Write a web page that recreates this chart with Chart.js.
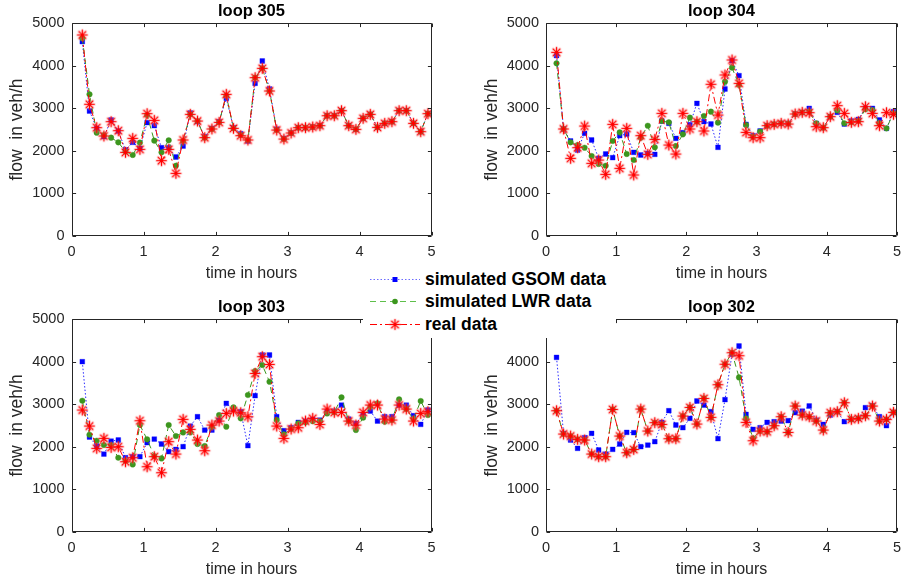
<!DOCTYPE html>
<html>
<head>
<meta charset="utf-8">
<script src="https://cdn.jsdelivr.net/npm/chart.js@4.4.1/dist/chart.umd.min.js"></script>
<style>
  html, body { margin: 0; padding: 0; background: #fff; }
  #wrap { position: relative; width: 909px; height: 586px; overflow: hidden; background: #fff; }
  canvas.panel { position: absolute; }
  #legend { position: absolute; left: 363px; top: 266px; width: 253px; height: 72px; background: #fff;
            font: bold 17.5px "Liberation Sans", Arial, sans-serif; color: #000; }
  #legend .row { position: absolute; left: 0; height: 22px; line-height: 22px; width: 253px; }
  #legend .row canvas { position: absolute; left: 5px; top: 1px; }
  #legend .row span { position: absolute; left: 62px; top: 0; white-space: nowrap; }
</style>
</head>
<body>
<div id="wrap">
  <canvas id="c305" class="panel" width="454" height="293" style="left:0;top:0"></canvas>
  <canvas id="c304" class="panel" width="455" height="293" style="left:454px;top:0"></canvas>
  <canvas id="c303" class="panel" width="454" height="293" style="left:0;top:293px"></canvas>
  <canvas id="c302" class="panel" width="455" height="293" style="left:454px;top:293px"></canvas>
  <div id="legend"></div>
</div>
<script>
// sample times (hours)
const hours = [0.15, 0.25, 0.35, 0.45, 0.55, 0.65, 0.75, 0.85, 0.95, 1.05, 1.15, 1.25, 1.35, 1.45, 1.55, 1.65,
  1.75, 1.85, 1.95, 2.05, 2.15, 2.25, 2.35, 2.45, 2.55, 2.65, 2.75, 2.85, 2.95, 3.05, 3.15, 3.25, 3.35,
  3.45, 3.55, 3.65, 3.75, 3.85, 3.95, 4.05, 4.15, 4.25, 4.35, 4.45, 4.55, 4.65, 4.75, 4.85, 4.95];

// loop 305 (veh/h)
const loop305Gsom = [4568, 2936, 2527, 2331, 2724, 2465, 2017, 2198, 2057, 2661, 2590, 2072, 2072, 1852, 2111, 2888,
  2684, 2331, 2527, 2684, 3234, 2543, 2402, 2229, 3587, 4113, 3454, 2510, 2292, 2418, 2543, 2543, 2559,
  2590, 2825, 2825, 2943, 2590, 2504, 2763, 2857, 2551, 2645, 2684, 2943, 2943, 2645, 2449, 2873];
const loop305Lwr = [4647, 3328, 2425, 2370, 2308, 2198, 1980, 1900, 2190, 2841, 2237, 1962, 2245, 1648, 2229, 2857,
  2700, 2308, 2512, 2669, 3300, 2527, 2370, 2253, 3721, 3940, 3407, 2488, 2276, 2418, 2543, 2543, 2559,
  2590, 2825, 2825, 2943, 2590, 2504, 2763, 2857, 2551, 2645, 2684, 2943, 2943, 2645, 2449, 2873];
const loop305Real = [4725, 3093, 2543, 2347, 2684, 2473, 1962, 2292, 2033, 2873, 2716, 1766, 2033, 1468, 2253, 2857,
  2700, 2308, 2512, 2669, 3328, 2527, 2355, 2253, 3721, 3940, 3407, 2488, 2276, 2418, 2543, 2543, 2559,
  2590, 2825, 2825, 2943, 2590, 2504, 2763, 2857, 2551, 2645, 2684, 2943, 2943, 2645, 2449, 2873];

// loop 304
const loop304Gsom = [4239, 2512, 2229, 2017, 2410, 2253, 1821, 1923, 1837, 2355, 2394, 1962, 1900, 1939, 1915, 2700,
  2645, 2292, 2425, 2614, 3116, 2684, 2629, 2080, 3454, 4120, 3768, 2622, 2355, 2465, 2590, 2622, 2645,
  2645, 2865, 2904, 2998, 2645, 2543, 2802, 2904, 2629, 2700, 2739, 3000, 2998, 2724, 2527, 2920];
const loop304Lwr = [4058, 2512, 2198, 2135, 2072, 1876, 1688, 1648, 2229, 2433, 1923, 1782, 2308, 2590, 2080, 2700,
  2669, 2111, 2386, 2779, 2684, 2818, 2920, 2661, 3626, 3956, 3548, 2606, 2330, 2450, 2590, 2622, 2645,
  2640, 2865, 2900, 2920, 2645, 2543, 2802, 2950, 2645, 2669, 2700, 2975, 2960, 2645, 2527, 2880];
const loop304Real = [4317, 2512, 1821, 2072, 2582, 1703, 1782, 1444, 2622, 1586, 2527, 1429, 2355, 1915, 2268, 2881,
  2135, 1923, 2881, 2512, 2684, 2465, 3564, 2841, 3783, 4137, 3587, 2433, 2308, 2308, 2590, 2622, 2645,
  2629, 2865, 2904, 2896, 2567, 2543, 2802, 3061, 2881, 2669, 2684, 3038, 2881, 2590, 2896, 2857];

// loop 303
const loop303Gsom = [4000, 2228, 2016, 1827, 2133, 2157, 1741, 1765, 1765, 2094, 2180, 2063, 1882, 1937, 2000, 2486,
  2706, 2392, 2392, 2627, 3020, 2878, 2824, 2024, 3200, 4157, 4157, 2706, 2376, 2447, 2573, 2600, 2640,
  2627, 2824, 2839, 2980, 2651, 2549, 2745, 2839, 2604, 2706, 2706, 2980, 2980, 2729, 2525, 2863];
const loop303Lwr = [3082, 2282, 2141, 2039, 2040, 1741, 1671, 1584, 2510, 2173, 1780, 1725, 2510, 2251, 2337, 2337,
  2063, 2016, 2471, 2745, 2471, 2925, 2667, 3216, 3780, 3922, 3529, 2627, 2290, 2416, 2549, 2573, 2600,
  2600, 2784, 2808, 3161, 2604, 2392, 2682, 2941, 3020, 2588, 2627, 3114, 2886, 2650, 3075, 2745];
const loop303Real = [2863, 2486, 1961, 2196, 1984, 2000, 1647, 1741, 2612, 1529, 1765, 1388, 2118, 1827, 2643, 2408,
  2157, 1906, 2510, 2604, 2784, 2839, 2800, 2706, 3725, 4118, 3937, 2486, 2196, 2416, 2447, 2604, 2667,
  2525, 2886, 2808, 2808, 2604, 2510, 2808, 2980, 2980, 2651, 2627, 2980, 2886, 2604, 2784, 2824];

// loop 302
const loop302Gsom = [4102, 2314, 2157, 1961, 2212, 2314, 1922, 1827, 1937, 2063, 2337, 2329, 2000, 2039, 2118, 2573,
  2847, 2510, 2447, 2667, 3075, 2980, 2824, 2188, 3106, 4173, 4369, 2761, 2408, 2447, 2573, 2588, 2604,
  2612, 2800, 2839, 2957, 2627, 2525, 2745, 2824, 2588, 2643, 2667, 2918, 2965, 2706, 2494, 2808];
const loop302Lwr = [2847, 2298, 2251, 2173, 2157, 1827, 1765, 1765, 2878, 2251, 1859, 1937, 2886, 2369, 2565, 2525,
  2188, 2188, 2722, 2925, 2533, 3137, 2690, 3459, 3941, 4212, 3631, 2667, 2200, 2369, 2353, 2494, 2706,
  2337, 2957, 2745, 2706, 2604, 2392, 2800, 2824, 3035, 2643, 2667, 2729, 2957, 2604, 2643, 2808];
const loop302Real = [2847, 2298, 2251, 2173, 2157, 1827, 1765, 1765, 2878, 2251, 1859, 1937, 2886, 2369, 2565, 2525,
  2188, 2188, 2722, 2925, 2533, 3137, 2690, 3459, 3941, 4212, 4141, 2573, 2141, 2369, 2353, 2494, 2706,
  2337, 2957, 2745, 2706, 2604, 2392, 2800, 2824, 3035, 2643, 2667, 2729, 2957, 2604, 2643, 2808];

const seriesNames = ['simulated GSOM data', 'simulated LWR data', 'real data'];
const xLabel = 'time in hours';
const yLabel = 'flow  in veh/h';

const FONT = '"Liberation Sans", Arial, Helvetica, sans-serif';
const AXIS_COLOR = '#262626';
const GSOM_COLOR = '#0000ff';
const LWR_COLOR = '#3c961e';
const REAL_COLOR = '#ff0000';
const Y_AXIS_W = 70;
const X_AXIS_H = 50;

// asterisk marker with a soft halo
function makeStar(size) {
  const c = document.createElement('canvas');
  c.width = 15; c.height = 15;
  const g = c.getContext('2d');
  const cx = 7.5, cy = 7.5, r = size;
  function spokes() {
    g.beginPath();
    for (let k = 0; k < 4; k++) {
      const a = k * Math.PI / 4;
      g.moveTo(cx - Math.cos(a) * r, cy - Math.sin(a) * r);
      g.lineTo(cx + Math.cos(a) * r, cy + Math.sin(a) * r);
    }
    g.stroke();
  }
  g.lineCap = 'round';
  g.strokeStyle = 'rgba(255,130,130,0.35)';
  g.lineWidth = 3;
  spokes();
  g.strokeStyle = REAL_COLOR;
  g.lineWidth = 1.2;
  spokes();
  return c;
}
const starImg = makeStar(4.8);

function pts(values) {
  return values.map((v, i) => ({ x: hours[i], y: v }));
}

// box around the axes with inward tick marks, plus the panel title
const axesBox = {
  id: 'axesBox',
  afterDraw(chart, args, opts) {
    const { ctx, chartArea: a, scales } = chart;
    const L = Math.round(a.left) + 0.5, R = Math.round(a.right) - 0.5;
    const T = Math.round(a.top) + 0.5, B = Math.round(a.bottom) - 0.5;
    const tl = 3.6;
    ctx.save();
    ctx.strokeStyle = AXIS_COLOR;
    ctx.lineWidth = 1;
    ctx.beginPath();
    ctx.rect(L, T, R - L, B - T);
    scales.x.ticks.forEach(t => {
      const px = Math.round(scales.x.getPixelForValue(t.value)) + 0.5;
      ctx.moveTo(px, B); ctx.lineTo(px, B - tl);
      ctx.moveTo(px, T); ctx.lineTo(px, T + tl);
    });
    scales.y.ticks.forEach(t => {
      const py = Math.round(scales.y.getPixelForValue(t.value)) + 0.5;
      ctx.moveTo(L, py); ctx.lineTo(L + tl, py);
      ctx.moveTo(R, py); ctx.lineTo(R - tl, py);
    });
    ctx.stroke();
    ctx.fillStyle = '#000';
    ctx.font = 'bold 16.5px ' + FONT;
    ctx.textAlign = 'center';
    ctx.textBaseline = 'alphabetic';
    ctx.fillText(opts.text, (a.left + a.right) / 2, a.top - 7);
    ctx.restore();
  }
};

function makePanel(id, title, gsom, lwr, real, area, size) {
  const cfg = {
    type: 'line',
    data: {
      datasets: [
        { label: seriesNames[2], data: pts(real), borderColor: REAL_COLOR, borderWidth: 1,
          borderDash: [7, 3, 2, 3], pointStyle: starImg, pointRadius: 5, fill: false, tension: 0 },
        { label: seriesNames[1], data: pts(lwr), borderColor: LWR_COLOR, borderWidth: 1,
          borderDash: [6, 4], pointStyle: 'circle', pointRadius: 2.8, pointBorderWidth: 1,
          pointBackgroundColor: LWR_COLOR, pointBorderColor: 'rgba(60,150,30,0.35)', fill: false, tension: 0 },
        { label: seriesNames[0], data: pts(gsom), borderColor: '#2a2aff', borderWidth: 1,
          borderDash: [1.5, 2], pointStyle: 'rect', pointRadius: 3.4, pointBorderWidth: 1,
          pointBackgroundColor: GSOM_COLOR, pointBorderColor: 'rgba(0,0,255,0.3)', fill: false, tension: 0 }
      ]
    },
    options: {
      responsive: false,
      animation: false,
      events: [],
      layout: {
        padding: {
          left: area.left - Y_AXIS_W,
          top: area.top,
          right: size.w - area.right,
          bottom: size.h - area.bottom - X_AXIS_H
        }
      },
      plugins: {
        legend: { display: false },
        tooltip: { enabled: false },
        axesBox: { text: title }
      },
      scales: {
        x: {
          type: 'linear', min: 0, max: 5,
          afterFit(s) { s.height = X_AXIS_H; },
          grid: { display: false, drawTicks: false },
          border: { display: false },
          ticks: { stepSize: 1, padding: 8, color: AXIS_COLOR, maxRotation: 0, autoSkip: false,
                   font: { family: FONT, size: 14.5 }, callback: v => String(v) },
          title: { display: true, text: xLabel, color: AXIS_COLOR,
                   font: { family: FONT, size: 16 }, padding: { top: 0, bottom: 3 } }
        },
        y: {
          type: 'linear', min: 0, max: 5000,
          afterFit(s) { s.width = Y_AXIS_W; },
          grid: { display: false, drawTicks: false },
          border: { display: false },
          ticks: { stepSize: 1000, padding: 7, color: AXIS_COLOR, autoSkip: false,
                   font: { family: FONT, size: 14.5 }, callback: v => String(v) },
          title: { display: true, text: yLabel, color: AXIS_COLOR,
                   font: { family: FONT, size: 17.5 }, padding: { top: 5.5, bottom: 0 } }
        }
      }
    },
    plugins: [axesBox]
  };
  return new Chart(document.getElementById(id), cfg);
}

makePanel('c305', 'loop 305', loop305Gsom, loop305Lwr, loop305Real,
  { left: 71.5, top: 23.3, right: 431.5, bottom: 235.7 }, { w: 454, h: 293 });
makePanel('c304', 'loop 304', loop304Gsom, loop304Lwr, loop304Real,
  { left: 92, top: 23.3, right: 451.5, bottom: 235.7 }, { w: 455, h: 293 });
makePanel('c303', 'loop 303', loop303Gsom, loop303Lwr, loop303Real,
  { left: 71.5, top: 26.2, right: 431.5, bottom: 238.7 }, { w: 454, h: 293 });
makePanel('c302', 'loop 302', loop302Gsom, loop302Lwr, loop302Real,
  { left: 92, top: 26.2, right: 451.5, bottom: 238.7 }, { w: 455, h: 293 });

// legend
const legendItems = [
  { name: seriesNames[0], color: '#6b6bff', dash: [1.5, 2], marker: 'square' },
  { name: seriesNames[1], color: '#5fbf4a', dash: [6, 4], marker: 'circle' },
  { name: seriesNames[2], color: REAL_COLOR, dash: [7, 3, 2, 3], marker: 'star' }
];
const rowTops = [2, 24, 47];
const legend = document.getElementById('legend');
legendItems.forEach((it, k) => {
  const row = document.createElement('div');
  row.className = 'row';
  row.style.top = rowTops[k] + 'px';
  const c = document.createElement('canvas');
  c.width = 54; c.height = 20;
  const g = c.getContext('2d');
  g.strokeStyle = it.color; g.lineWidth = 1; g.setLineDash(it.dash);
  g.beginPath(); g.moveTo(2, 10.5); g.lineTo(52, 10.5); g.stroke();
  g.setLineDash([]);
  if (it.marker === 'square') {
    g.fillStyle = GSOM_COLOR; g.fillRect(24.5, 8, 5, 5);
  } else if (it.marker === 'circle') {
    g.fillStyle = LWR_COLOR; g.beginPath(); g.arc(27, 10.5, 2.8, 0, Math.PI * 2); g.fill();
  } else {
    g.drawImage(starImg, 27 - 7.5, 10.5 - 7.5);
  }
  const s = document.createElement('span');
  s.textContent = it.name;
  row.appendChild(c);
  row.appendChild(s);
  legend.appendChild(row);
});
</script>
</body>
</html>
